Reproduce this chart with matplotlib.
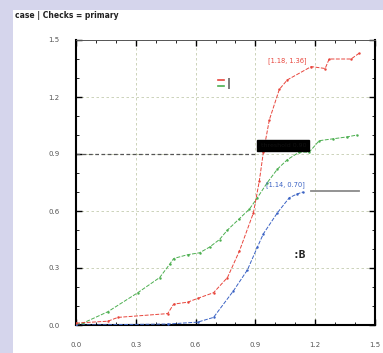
import numpy as np
import matplotlib.pyplot as plt
from matplotlib.patches import Rectangle
from matplotlib.ticker import MultipleLocator
import matplotlib.lines as mlines

# ── data ─────────────────────────────────────────────────────────────────────
red_x = [0.00, 0.16, 0.21, 0.46, 0.49, 0.56, 0.61, 0.69, 0.76, 0.82, 0.89,
         0.92, 0.94, 0.97, 1.02, 1.06, 1.18, 1.25, 1.27, 1.38, 1.42]
red_y = [0.01, 0.02, 0.04, 0.06, 0.11, 0.12, 0.14, 0.17, 0.25, 0.39, 0.59,
         0.76, 0.91, 1.08, 1.24, 1.29, 1.36, 1.35, 1.40, 1.40, 1.43]

green_x = [0.00, 0.035, 0.16, 0.31, 0.42, 0.47, 0.49, 0.56, 0.62, 0.67, 0.72,
           0.76, 0.82, 0.87, 0.91, 0.96, 1.01, 1.06, 1.12, 1.17, 1.22, 1.29,
           1.36, 1.41]
green_y = [0.005, 0.01, 0.07, 0.17, 0.25, 0.32, 0.35, 0.37, 0.38, 0.41, 0.45,
           0.50, 0.56, 0.61, 0.67, 0.75, 0.82, 0.87, 0.91, 0.91, 0.97, 0.98,
           0.99, 1.00]

blue_x = [0.00, 0.46, 0.61, 0.69, 0.79, 0.86, 0.91, 0.94, 1.01, 1.07, 1.11, 1.14]
blue_y = [0.00, 0.005, 0.015, 0.04, 0.18, 0.29, 0.41, 0.48, 0.59, 0.67, 0.69, 0.70]

plateau_x = [1.18, 1.42]
plateau_y = [0.705, 0.705]

threshold = 0.9
red_pt = (1.18, 1.36)
blue_pt = (1.14, 0.70)
box_pt = (1.04, 0.945)

ticks = [0.0, 0.3, 0.6, 0.9, 1.2, 1.5]
tick_labels = ['0.0', '0.3', '0.6', '0.9', '1.2', '1.5']

# ── figure ───────────────────────────────────────────────────────────────────
fig = plt.figure(figsize=(3.83, 3.53), dpi=100, facecolor='#d5d5ec')
fig.patches.append(Rectangle((13 / 383, 0), 1, 1 - 10 / 353,
                             transform=fig.transFigure, fc='white', ec='none',
                             zorder=-5))
fig.text(15 / 383, 1 - 15 / 353, 'case | Checks = primary', fontsize=5.5,
         color='#222222', va='center', ha='left', fontweight='semibold')

ax = fig.add_axes([76 / 383, 1 - 325 / 353, (375 - 76) / 383, (325 - 40) / 353])
ax.set_xlim(0, 1.5)
ax.set_ylim(0, 1.5)

ax.set_xticks(ticks)
ax.set_xticklabels(tick_labels)
ax.set_yticks(ticks)
ax.set_yticklabels(tick_labels)
ax.xaxis.set_minor_locator(MultipleLocator(0.1))
ax.yaxis.set_minor_locator(MultipleLocator(0.1))
ax.tick_params(which='both', direction='in', top=True, right=True,
               labelsize=5, labelcolor='#555555')
ax.tick_params(axis='x', pad=12)
ax.tick_params(axis='y', pad=12)
ax.tick_params(which='major', length=4, width=1.0)
ax.tick_params(which='minor', length=2, width=0.6)

for side in ('left', 'bottom', 'right'):
    ax.spines[side].set_linewidth(1.5)
    ax.spines[side].set_color('black')
ax.spines['top'].set_linewidth(0.7)
ax.spines['top'].set_color('#555555')

ax.grid(which='major', ls='--', lw=0.6, color='#c4ccb0', dashes=(3, 3))
ax.axhline(threshold, xmax=0.6, ls='--', lw=0.9, color='#555555',
           dashes=(3, 2), zorder=2)

ax.plot(green_x, green_y, color='#4caf50', lw=0.7, ls='--', dashes=(4, 1.5),
        marker='.', ms=1.5, zorder=3)
ax.plot(blue_x, blue_y, color='#3a62c4', lw=0.7, ls='--', dashes=(4, 1.5),
        marker='.', ms=1.5, zorder=3)
ax.plot(red_x, red_y, color='#e8453c', lw=0.7, ls='--', dashes=(4, 1.5),
        marker='.', ms=1.5, zorder=4)
ax.plot(plateau_x, plateau_y, color='#8a8a8a', lw=1.3, zorder=3)

ax.annotate(f'[{red_pt[0]:.2f}, {red_pt[1]:.2f}]', xy=red_pt,
            xytext=(-3, 4), textcoords='offset points', ha='right',
            va='center', fontsize=4.8, color='#e8453c')
ax.annotate(f'[{blue_pt[0]:.2f}, {blue_pt[1]:.2f}]', xy=blue_pt,
            xytext=(1, 5), textcoords='offset points', ha='right',
            va='center', fontsize=4.8, color='#3a62c4')
ax.text(*box_pt, 'threshold 0.90', fontsize=4.5, color='#111111',
        ha='center', va='center',
        bbox=dict(boxstyle='square,pad=0.5', fc='black', ec='black'), zorder=6)

# small legends inside the axes
h1 = mlines.Line2D([], [], color='#e8453c', lw=1.2)
h2 = mlines.Line2D([], [], color='#4caf50', lw=1.2)
ax.legend(handles=[h1, h2], labels=['', ''], loc='center',
          bbox_to_anchor=(0.73, 1.27), bbox_transform=ax.transData,
          frameon=False, handlelength=1.2, handletextpad=0.2,
          labelspacing=0.2, fontsize=4)
ax.text(0.765, 1.27, '|', fontsize=8, color='#333333', ha='center',
        va='center', fontweight='bold')
ax.text(1.12, 0.37, ':B', fontsize=8, color='#222222', ha='center',
        va='center', fontweight='bold', family='DejaVu Sans Mono')

fig.savefig('out.png', dpi=100, facecolor=fig.get_facecolor())
